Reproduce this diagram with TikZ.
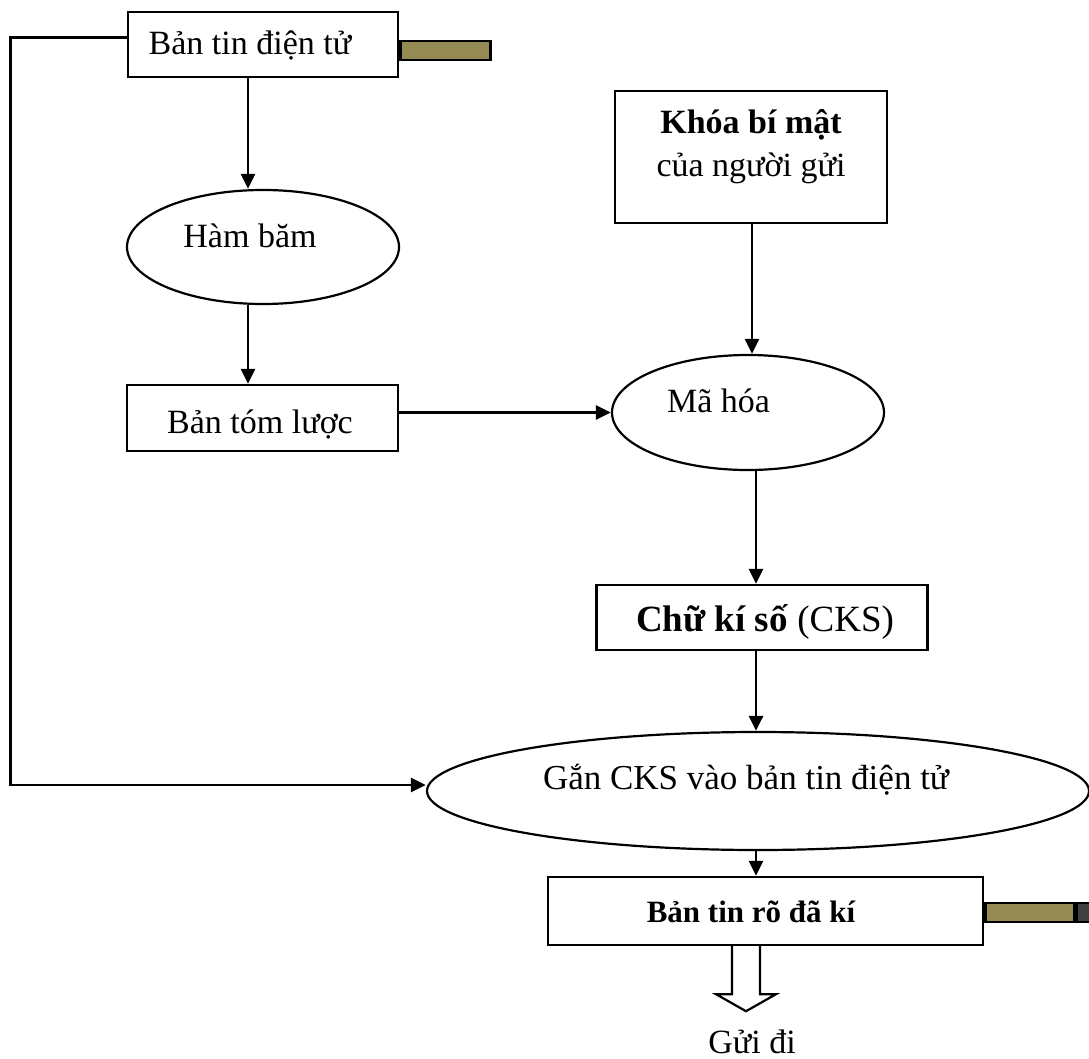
\documentclass[tikz,border=0pt]{standalone}
\usepackage{fontspec}
\setmainfont{Liberation Serif}
\usetikzlibrary{arrows.meta,shapes.geometric}
\definecolor{olivebar}{HTML}{948A54}
\definecolor{darkbar}{HTML}{404040}
\begin{document}
\begin{tikzpicture}[x=1pt,y=-1pt,
  frame/.style={draw, line width=2.4pt, inner sep=0pt},
  oval/.style={ellipse, draw, line width=2.2pt, inner sep=0pt},
  txt/.style={anchor=base, inner sep=0pt, font=\fontsize{34}{40}\selectfont},
  btxt/.style={txt, font=\fontsize{34}{40}\selectfont\bfseries},
  arr/.style={line width=2.8pt, -{Triangle[length=15pt,width=14pt]}},
  bar/.style={draw, line width=2.4pt, inner sep=0pt, anchor=west, minimum height=19pt}
]
\useasboundingbox (0,0) rectangle (1089,1059);

% boxes and ovals
\node[frame, minimum width=270pt, minimum height=65pt] (top) at (263,44.5) {};
\node[oval, minimum width=272pt, minimum height=114pt] (hash) at (263,247) {};
\node[frame, minimum width=271pt, minimum height=66pt] (digest) at (262.5,418) {};
\node[frame, minimum width=272pt, minimum height=132pt] (key) at (751,157) {};
\node[oval, minimum width=272pt, minimum height=115pt] (enc) at (748,412.5) {};
\node[frame, minimum width=331pt, minimum height=65pt] (cks) at (762,617.5) {};
\node[oval, minimum width=662pt, minimum height=118pt] (attach) at (758,791) {};
\node[frame, minimum width=435pt, minimum height=68pt] (signed) at (765.5,911) {};

% coloured bars
\node[bar, fill=olivebar, minimum width=90pt] (bar1) at ([yshift=-6pt]top.east) {};
\node[bar, fill=olivebar, minimum width=89pt] (bar2) at ([yshift=-1.5pt]signed.east) {};
\node[bar, fill=darkbar, minimum width=24pt] (bar3) at (bar2.east) {};

% labels
\node[txt] (toptxt) at (250,55) {Bản tin điện tử};
\node[txt] (hashtxt) at (250,248) {Hàm băm};
\node[txt] (digesttxt) at (260,433) {Bản tóm lược};
\node[btxt] (keytxt1) at (751,134) {Khóa bí mật};
\node[txt] (keytxt2) at (751,177) {của người gửi};
\node[txt] (enctxt) at (718.5,412) {Mã hóa};
\node[txt, font=\fontsize{37}{44}\selectfont] (ckstxt) at (765,631) {\textbf{Chữ kí số} (CKS)};
\node[txt, font=\fontsize{35}{42}\selectfont] (attachtxt) at (746,789) {Gắn CKS vào bản tin điện tử};
\node[btxt, font=\fontsize{31}{38}\selectfont\bfseries] (signedtxt) at (751,922) {Bản tin rõ đã kí};
\node[txt] (send) at (752,1053) {Gửi đi};

% connectors
\draw[arr] ([xshift=-15pt]top.south) -- ([xshift=-15pt]hash.north);
\draw[arr] ([xshift=-15pt]hash.south) -- ([xshift=-14.5pt]digest.north);
\draw[arr] (digest.east |- enc.west) -- (enc.west);
\draw[arr] ([xshift=1pt]key.south) -- ([xshift=1pt]key.south |- enc.north);
\draw[arr] ([xshift=8pt]enc.south) -- ([xshift=8pt]enc.south |- cks.north);
\draw[arr] ([xshift=-6pt]cks.south) -- ([xshift=-6pt]cks.south |- attach.north);
\draw[arr] ([xshift=-2pt]attach.south) -- ([xshift=-2pt]attach.south |- signed.north);
\draw[arr] ([yshift=7pt]top.west) -- ++(-116pt,0) |- ([yshift=6pt]attach.west);

% hollow arrow below the signed message
\draw[line width=2.2pt, line join=miter] ([xshift=-33.5pt]signed.south) -- ++(0,48) -- ++(-16,0)
  -- ++(30,17) -- ++(30,-17) -- ++(-16,0) -- ++(0,-48);
\end{tikzpicture}
\end{document}
